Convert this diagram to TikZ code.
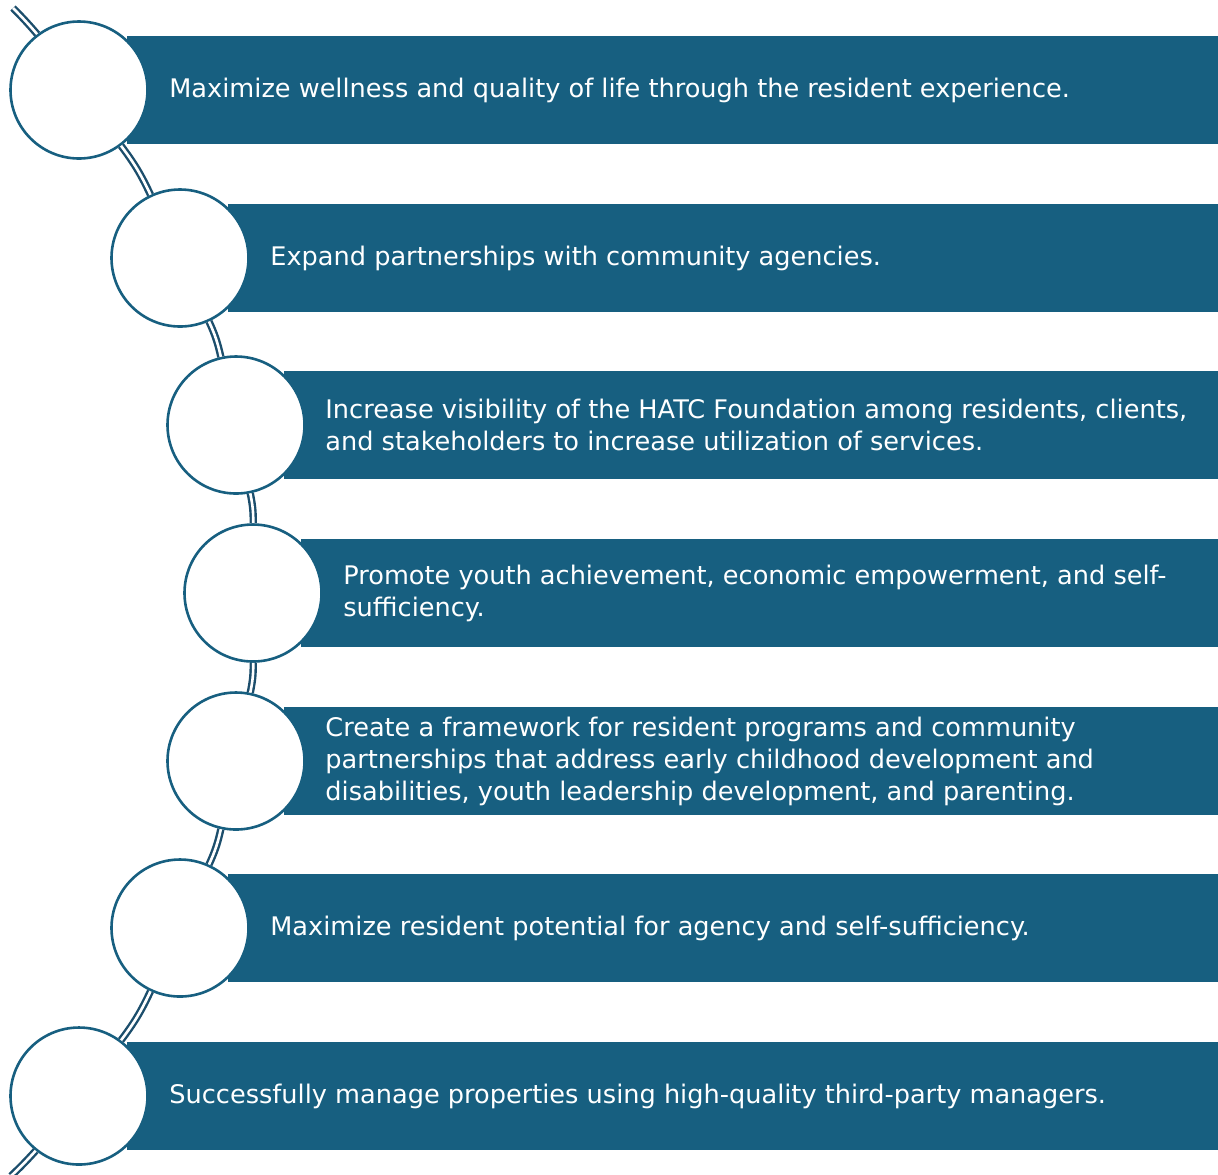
\documentclass[tikz,border=0pt]{standalone}
\usepackage{fontspec}
\setmainfont{DejaVu Sans}
\definecolor{hatc}{RGB}{23,95,128}
\definecolor{hatcdark}{RGB}{28,78,108}
\tikzset{every picture/.style={x=0.5pt,y=-0.5pt}}
\tikzset{ring/.style={circle,draw=hatc,line width=1.3pt,fill=white,minimum size=68.5pt,inner sep=0pt}}
\tikzset{band/.style={fill=hatc}}
\tikzset{link/.style={draw=hatcdark,line width=1.2pt,double=white,double distance=1.3pt}}
\tikzset{goal/.style={text=white,anchor=west,align=left,inner sep=0pt,font=\fontsize{12.8}{16}\selectfont}}

\begin{document}
\begin{tikzpicture}
\useasboundingbox (0,0) rectangle (1218,1174);

% bands
\fill [band] (127,36) rectangle (1218,144);
\fill [band] (228,204) rectangle (1218,312);
\fill [band] (284,371) rectangle (1218,479);
\fill [band] (301,539) rectangle (1218,647);
\fill [band] (284,707) rectangle (1218,815);
\fill [band] (228,874) rectangle (1218,982);
\fill [band] (127,1042) rectangle (1218,1150);

% rings
\node [ring] (c1) at (79,90) {};
\node [ring] (c2) at (180,258) {};
\node [ring] (c3) at (236,425) {};
\node [ring] (c4) at (253,593) {};
\node [ring] (c5) at (236,761) {};
\node [ring] (c6) at (180,928) {};
\node [ring] (c7) at (79,1096) {};
\coordinate (top) at (13,8);
\coordinate (bottom) at (11,1176);

% curved connector
\draw [link] (top) to[bend left=2] (c1);
\draw [link] (c1) to[bend left=6] (c2);
\draw [link] (c2) to[bend left=6] (c3);
\draw [link] (c3) to[bend left=6] (c4);
\draw [link] (c4) to[bend left=6] (c5);
\draw [link] (c5) to[bend left=6] (c6);
\draw [link] (c6) to[bend left=6] (c7);
\draw [link] (c7) to[bend left=2] (bottom);

% goals
\node [goal] (g1) at (169,90) {Maximize wellness and quality of life through the resident experience.};
\node [goal] (g2) at (270,258) {Expand partnerships with community agencies.};
\node [goal] (g3) at (325,425) {Increase visibility of the HATC Foundation among residents, clients,\\and stakeholders to increase utilization of services.};
\node [goal] (g4) at (343,593) {Promote youth achievement, economic empowerment, and self-\\sufficiency.};
\node [goal] (g5) at (325,761) {Create a framework for resident programs and community\\partnerships that address early childhood development and\\disabilities, youth leadership development, and parenting.};
\node [goal] (g6) at (270,928) {Maximize resident potential for agency and self-sufficiency.};
\node [goal] (g7) at (169,1096) {Successfully manage properties using high-quality third-party managers.};
\end{tikzpicture}
\end{document}
